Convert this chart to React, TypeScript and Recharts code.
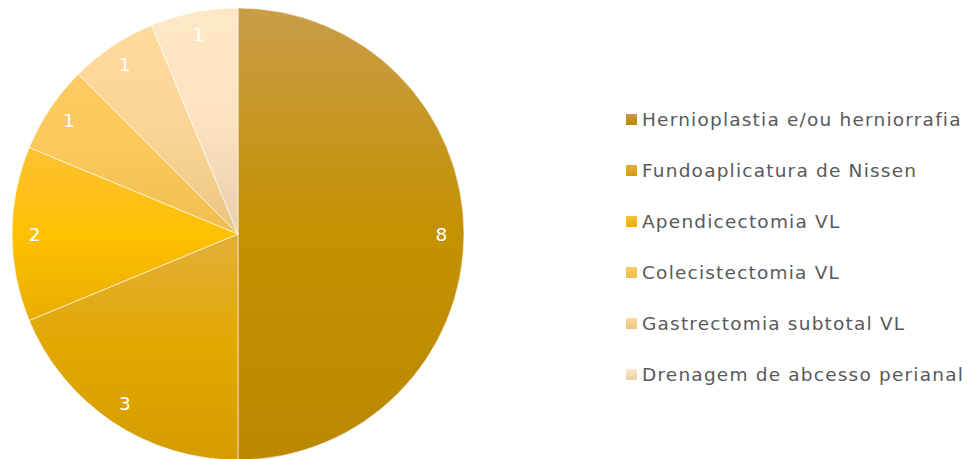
import React from 'react';
import { PieChart, Pie, Cell, Legend } from 'recharts';

const categories = [
  'Hernioplastia e/ou herniorrafia',
  'Fundoaplicatura de Nissen',
  'Apendicectomia VL',
  'Colecistectomia VL',
  'Gastrectomia subtotal VL',
  'Drenagem de abcesso perianal',
];
const values = [8, 3, 2, 1, 1, 1];

// gradient per slice: [top, mid, bottom]
const gradients = [
  ['#C99C48', '#C49100', '#BA8800'],
  ['#E3AF3A', '#E2A800', '#D49C00'],
  ['#FDC134', '#FFC000', '#E8AE00'],
  ['#FDCB62', '#FBC85A', '#EDBE4E'],
  ['#FEDA9C', '#FBD596', '#E9C580'],
  ['#FEE7C7', '#FCE3C0', '#E6CFAA'],
];

const data = categories.map((name, i) => ({ name, value: values[i] }));

const RAD = Math.PI / 180;
const FONT = '"DejaVu Sans", sans-serif';

const renderLabel = (props: any) => {
  const { cx, cy, midAngle, outerRadius, value } = props;
  const r = outerRadius * 0.9;
  const x = cx + r * Math.cos(-midAngle * RAD);
  const y = cy + r * Math.sin(-midAngle * RAD);
  return (
    <text
      x={x}
      y={y}
      fill="#ffffff"
      textAnchor="middle"
      dominantBaseline="central"
      fontSize={18.5}
      fontFamily={FONT}
    >
      {value}
    </text>
  );
};

const renderLegend = () => (
  <div>
    {categories.map((name, i) => (
      <div
        key={name}
        style={{
          display: 'flex',
          alignItems: 'center',
          height: 51,
          fontFamily: FONT,
          fontSize: 18.5,
          letterSpacing: 1.2,
          color: '#595959',
          whiteSpace: 'nowrap',
        }}
      >
        <span
          style={{
            width: 11,
            height: 11,
            background: `linear-gradient(${gradients[i][0]}, ${gradients[i][2]})`,
            marginRight: 5,
            display: 'inline-block',
            flexShrink: 0,
          }}
        />
        {name}
      </div>
    ))}
  </div>
);

export default function App() {
  return (
    <div style={{ position: 'absolute', left: 0, top: 0, width: 980, height: 459, background: '#fff' }}>
      <PieChart width={980} height={459} margin={{ top: 0, right: 0, bottom: 0, left: 0 }}>
        <defs>
          {gradients.map((g, i) => (
            <linearGradient key={i} id={`grad${i}`} x1="0" y1="0" x2="0" y2="1">
              <stop offset="0%" stopColor={g[0]} />
              <stop offset="50%" stopColor={g[1]} />
              <stop offset="100%" stopColor={g[2]} />
            </linearGradient>
          ))}
        </defs>
        <Pie
          data={data}
          dataKey="value"
          nameKey="name"
          cx={238}
          cy={234}
          outerRadius={226}
          startAngle={90}
          endAngle={-270}
          stroke="#ffffff"
          strokeWidth={0.6}
          label={renderLabel}
          labelLine={false}
          isAnimationActive={false}
        >
          {data.map((_, i) => (
            <Cell key={`cell-${i}`} fill={`url(#grad${i})`} />
          ))}
        </Pie>
        <Legend
          layout="vertical"
          align="right"
          verticalAlign="top"
          content={renderLegend}
          wrapperStyle={{ left: 626, top: 94, width: 354 }}
        />
      </PieChart>
    </div>
  );
}
